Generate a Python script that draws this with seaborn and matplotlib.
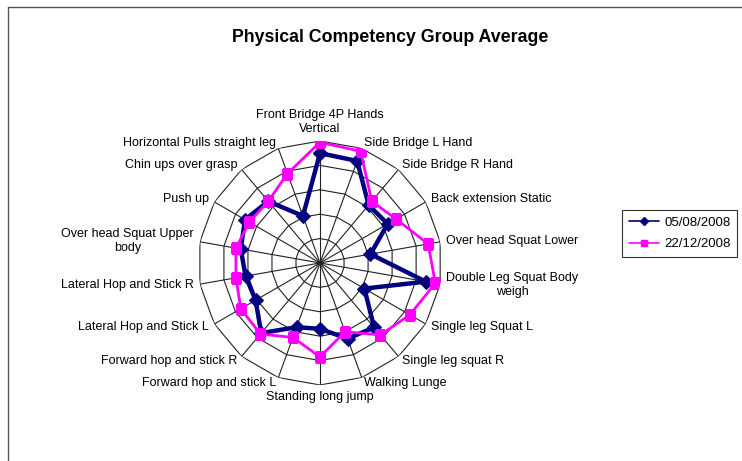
import numpy as np
import pandas as pd
import matplotlib
matplotlib.use("Agg")
import matplotlib.pyplot as plt
from matplotlib.lines import Line2D
import seaborn as sns

categories = [
    "Front Bridge 4P Hands\nVertical", "Side Bridge L Hand", "Side Bridge R Hand",
    "Back extension Static", "Over head Squat Lower", "Double Leg Squat Body\nweigh",
    "Single leg Squat L", "Single leg squat R", "Walking Lunge", "Standing long jump",
    "Forward hop and stick L", "Forward hop and stick R", "Lateral Hop and Stick L",
    "Lateral Hop and Stick R", "Over head Squat Upper\nbody", "Push up",
    "Chin ups over grasp", "Horizontal Pulls straight leg",
]
series_names = ["05/08/2008", "22/12/2008"]
values_2008_08 = [4.5, 4.45, 3.1, 3.2, 2.1, 4.4, 2.1, 3.45, 3.3, 2.7,
                  2.8, 3.75, 3.05, 3.1, 3.3, 3.55, 3.3, 2.05]
values_2008_12 = [4.95, 4.87, 3.3, 3.6, 4.5, 4.8, 4.25, 3.85, 3.0, 3.85,
                  3.25, 3.8, 3.75, 3.5, 3.5, 3.35, 3.3, 3.9]
rmax = 5

sns.set_style("white")
plt.rcParams['font.family'] = ['Liberation Sans', 'DejaVu Sans']
plt.rcParams['text.color'] = 'black'

fig = plt.figure(figsize=(7.42, 4.61), dpi=100)
fig.patch.set_facecolor("white")

ax = fig.add_axes([0.2669, 0.1649, 0.3288, 0.5293], projection="polar")
ax.set_theta_zero_location("N")
ax.set_theta_direction(-1)
ax.set_facecolor("none")
ax.spines["polar"].set_visible(False)
ax.grid(False)
ax.set_xticks([])
ax.set_yticks([])
ax.set_ylim(0, rmax)

n = len(categories)
theta = np.arange(n) * 2 * np.pi / n
theta_closed = np.append(theta, 2 * np.pi)

gridc = "#222222"
for r in range(1, rmax + 1):
    ax.plot(theta_closed, [r] * (n + 1), color=gridc, lw=0.8, zorder=1)
for t in theta:
    ax.plot([t, t], [0, rmax], color=gridc, lw=0.8, zorder=1)

rows = []
for name, vals in zip(series_names, [values_2008_08, values_2008_12]):
    v = list(vals) + [vals[0]]
    for t, val in zip(theta_closed, v):
        rows.append({"series": name, "theta": t, "value": val})
df = pd.DataFrame(rows)

styles = {
    "05/08/2008": dict(color="#000080", lw=3.2, marker="D", markersize=7.5),
    "22/12/2008": dict(color="#FF00FF", lw=2.0, marker="s", markersize=7.5),
}
for z, name in enumerate(series_names):
    sub = df[df["series"] == name]
    st = styles[name]
    sns.lineplot(data=sub, x="theta", y="value", sort=False, estimator=None,
                 color=st["color"], lw=st["lw"], marker=st["marker"],
                 markersize=st["markersize"], markeredgecolor=st["color"],
                 ax=ax, zorder=3 + z, legend=False)
ax.set_xlabel("")
ax.set_ylabel("")
ax.set_ylim(0, rmax)

rl = rmax * 1.05
for t, lab in zip(theta, categories):
    deg = np.degrees(t)
    if abs(deg) < 1:
        ha, va = "center", "bottom"
    elif abs(deg - 180) < 1:
        ha, va = "center", "top"
    elif deg < 180:
        ha, va = "left", "center"
    else:
        ha, va = "right", "center"
    ax.text(t, rl, lab, ha=ha, va=va, fontsize=9, multialignment="center",
            color="black", clip_on=False)

fig.text(390 / 742, 1 - 37 / 461, "Physical Competency Group Average",
         ha="center", va="center", fontsize=12.8, fontweight="bold", color="black")

handles = [
    Line2D([], [], color="#000080", lw=1.2, marker="D", markersize=4),
    Line2D([], [], color="#FF00FF", lw=1.2, marker="s", markersize=5),
]
leg = fig.legend(handles, series_names, loc="upper left",
                 bbox_to_anchor=(622 / 742, 1 - 210 / 461), frameon=True,
                 fancybox=False, edgecolor="black", fontsize=9.5,
                 handlelength=2.3, handletextpad=0.4, borderaxespad=0,
                 borderpad=0.5, labelspacing=0.7)
leg.get_frame().set_linewidth(0.8)
for txt in leg.get_texts():
    txt.set_color("black")

fig.add_artist(Line2D([8 / 742, 8 / 742], [0, 1 - 7 / 461], transform=fig.transFigure,
                      color="#555555", lw=1))
fig.add_artist(Line2D([8 / 742, 1], [1 - 7 / 461, 1 - 7 / 461], transform=fig.transFigure,
                      color="#555555", lw=1))

fig.savefig("out.png", dpi=100, facecolor="white")
